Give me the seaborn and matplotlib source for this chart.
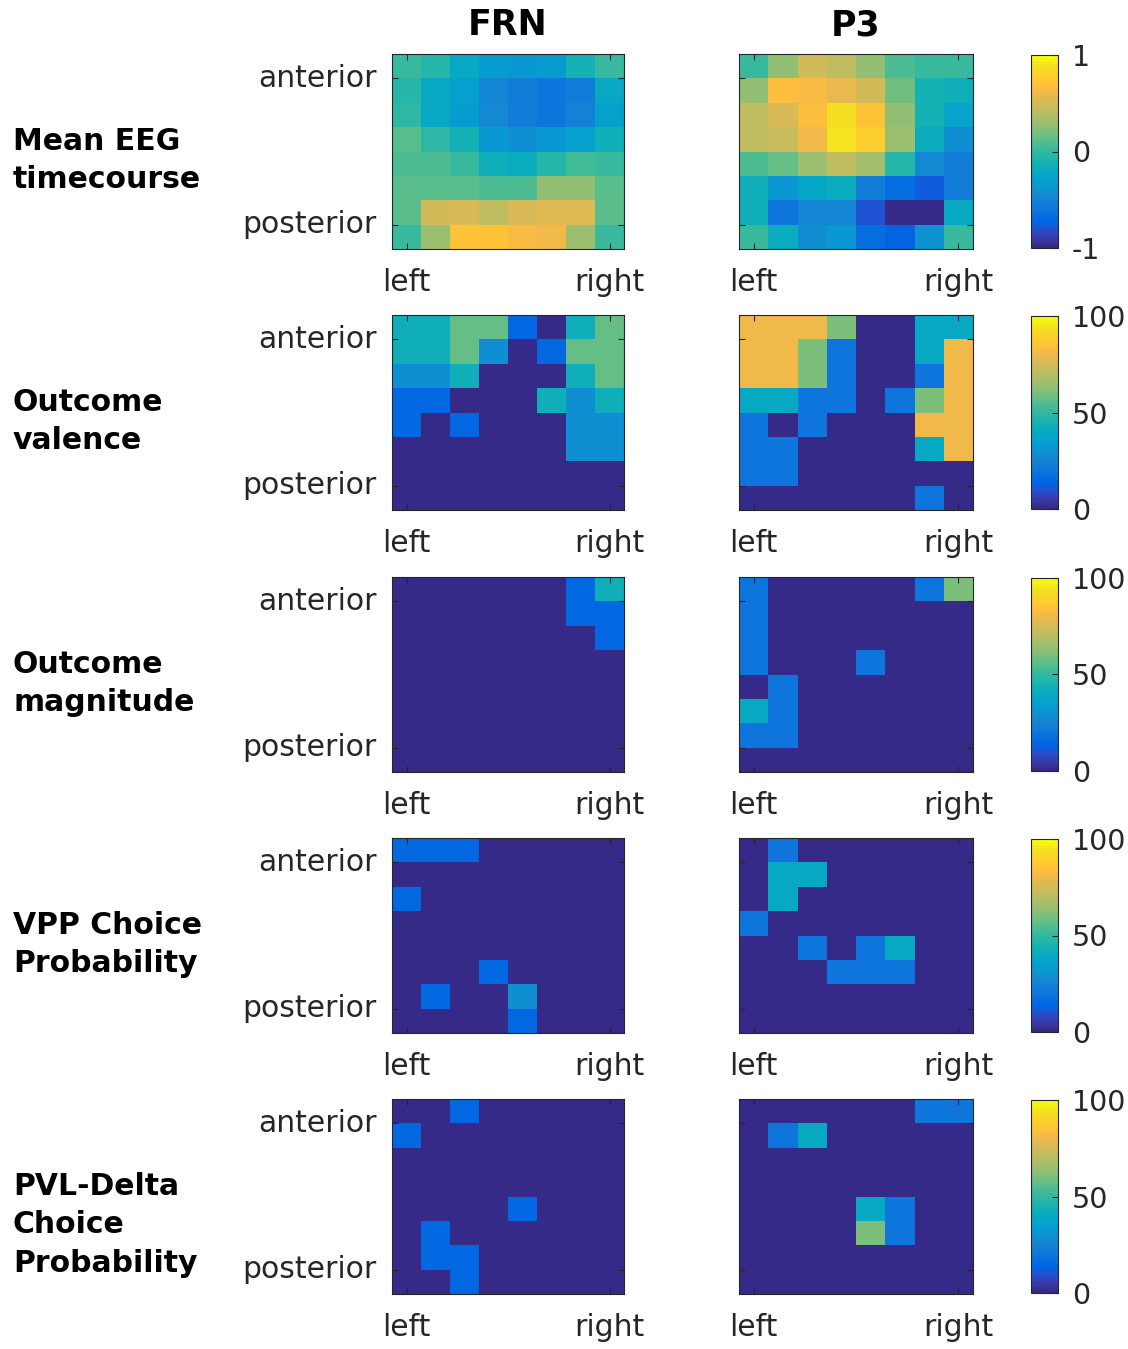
import numpy as np
import seaborn as sns
import matplotlib.pyplot as plt
from matplotlib.colors import ListedColormap

# MATLAB parula (64 colours)
parula_rgb = [
    [0.2081, 0.1663, 0.5292], [0.2116, 0.1898, 0.5777], [0.2123, 0.2138, 0.6270], [0.2081, 0.2386, 0.6771],
    [0.1959, 0.2645, 0.7279], [0.1707, 0.2919, 0.7792], [0.1253, 0.3242, 0.8303], [0.0591, 0.3598, 0.8683],
    [0.0117, 0.3875, 0.8820], [0.0060, 0.4086, 0.8828], [0.0165, 0.4266, 0.8786], [0.0329, 0.4430, 0.8720],
    [0.0498, 0.4586, 0.8641], [0.0629, 0.4737, 0.8554], [0.0723, 0.4887, 0.8467], [0.0779, 0.5040, 0.8384],
    [0.0793, 0.5200, 0.8312], [0.0749, 0.5375, 0.8263], [0.0641, 0.5570, 0.8240], [0.0488, 0.5772, 0.8228],
    [0.0343, 0.5966, 0.8199], [0.0265, 0.6137, 0.8135], [0.0239, 0.6287, 0.8038], [0.0231, 0.6418, 0.7913],
    [0.0228, 0.6535, 0.7768], [0.0267, 0.6642, 0.7607], [0.0384, 0.6743, 0.7436], [0.0590, 0.6838, 0.7254],
    [0.0843, 0.6928, 0.7062], [0.1133, 0.7015, 0.6859], [0.1453, 0.7098, 0.6646], [0.1801, 0.7177, 0.6424],
    [0.2178, 0.7250, 0.6193], [0.2586, 0.7317, 0.5954], [0.3022, 0.7376, 0.5712], [0.3482, 0.7424, 0.5473],
    [0.3953, 0.7459, 0.5244], [0.4420, 0.7481, 0.5033], [0.4871, 0.7491, 0.4840], [0.5300, 0.7491, 0.4661],
    [0.5709, 0.7485, 0.4494], [0.6099, 0.7473, 0.4337], [0.6473, 0.7456, 0.4188], [0.6834, 0.7435, 0.4044],
    [0.7184, 0.7411, 0.3905], [0.7525, 0.7384, 0.3768], [0.7858, 0.7356, 0.3633], [0.8185, 0.7327, 0.3498],
    [0.8507, 0.7299, 0.3360], [0.8824, 0.7274, 0.3217], [0.9139, 0.7258, 0.3063], [0.9450, 0.7261, 0.2886],
    [0.9739, 0.7314, 0.2666], [0.9938, 0.7455, 0.2403], [0.9990, 0.7653, 0.2164], [0.9955, 0.7861, 0.1967],
    [0.9880, 0.8066, 0.1794], [0.9789, 0.8271, 0.1633], [0.9697, 0.8481, 0.1475], [0.9626, 0.8705, 0.1309],
    [0.9589, 0.8949, 0.1132], [0.9598, 0.9218, 0.0948], [0.9661, 0.9514, 0.0755], [0.9763, 0.9831, 0.0538]]
parula = ListedColormap(parula_rgb)

# ---- data (rows: anterior -> posterior, cols: left -> right) ----
frn_mean = [
    [0.00, -0.05, -0.20, -0.33, -0.35, -0.34, -0.11, 0.00],
    [-0.05, -0.20, -0.30, -0.49, -0.55, -0.62, -0.55, -0.20],
    [-0.02, -0.20, -0.32, -0.45, -0.56, -0.60, -0.52, -0.30],
    [0.11, -0.03, -0.12, -0.35, -0.42, -0.37, -0.30, -0.15],
    [0.07, 0.07, 0.00, -0.15, -0.17, -0.06, 0.04, 0.00],
    [0.11, 0.11, 0.11, 0.09, 0.09, 0.27, 0.27, 0.11],
    [0.11, 0.49, 0.52, 0.43, 0.52, 0.56, 0.56, 0.11],
    [0.00, 0.30, 0.70, 0.70, 0.65, 0.60, 0.30, 0.02]]
p3_mean = [
    [0.02, 0.27, 0.49, 0.43, 0.27, 0.08, 0.02, 0.00],
    [0.28, 0.68, 0.63, 0.57, 0.49, 0.18, -0.10, -0.13],
    [0.43, 0.52, 0.67, 0.87, 0.70, 0.27, -0.11, -0.28],
    [0.42, 0.45, 0.62, 0.90, 0.78, 0.31, -0.18, -0.43],
    [0.07, 0.15, 0.31, 0.43, 0.34, -0.05, -0.45, -0.55],
    [-0.13, -0.35, -0.22, -0.17, -0.55, -0.68, -0.77, -0.55],
    [-0.13, -0.60, -0.49, -0.50, -0.80, -1.00, -1.00, -0.20],
    [0.01, -0.18, -0.42, -0.37, -0.67, -0.72, -0.40, 0.01]]

frn_valence = [
    [42.9, 42.9, 57.1, 57.1, 14.3, 0, 42.9, 57.1],
    [42.9, 42.9, 57.1, 28.6, 0, 14.3, 57.1, 57.1],
    [28.6, 28.6, 42.9, 0, 0, 0, 42.9, 57.1],
    [14.3, 14.3, 0, 0, 0, 42.9, 28.6, 42.9],
    [14.3, 0, 14.3, 0, 0, 0, 28.6, 28.6],
    [0, 0, 0, 0, 0, 0, 28.6, 28.6],
    [0, 0, 0, 0, 0, 0, 0, 0],
    [0, 0, 0, 0, 0, 0, 0, 0]]
p3_valence = [
    [80, 80, 80, 60, 0, 0, 40, 40],
    [80, 80, 60, 20, 0, 0, 40, 80],
    [80, 80, 60, 20, 0, 0, 20, 80],
    [40, 40, 20, 20, 0, 20, 60, 80],
    [20, 0, 20, 0, 0, 0, 80, 80],
    [20, 20, 0, 0, 0, 0, 40, 80],
    [20, 20, 0, 0, 0, 0, 0, 0],
    [0, 0, 0, 0, 0, 0, 20, 0]]

frn_magnitude = [
    [0, 0, 0, 0, 0, 0, 14.3, 42.9],
    [0, 0, 0, 0, 0, 0, 14.3, 14.3],
    [0, 0, 0, 0, 0, 0, 0, 14.3],
    [0, 0, 0, 0, 0, 0, 0, 0],
    [0, 0, 0, 0, 0, 0, 0, 0],
    [0, 0, 0, 0, 0, 0, 0, 0],
    [0, 0, 0, 0, 0, 0, 0, 0],
    [0, 0, 0, 0, 0, 0, 0, 0]]
p3_magnitude = [
    [20, 0, 0, 0, 0, 0, 20, 60],
    [20, 0, 0, 0, 0, 0, 0, 0],
    [20, 0, 0, 0, 0, 0, 0, 0],
    [20, 0, 0, 0, 20, 0, 0, 0],
    [0, 20, 0, 0, 0, 0, 0, 0],
    [40, 20, 0, 0, 0, 0, 0, 0],
    [20, 20, 0, 0, 0, 0, 0, 0],
    [0, 0, 0, 0, 0, 0, 0, 0]]

frn_vpp = [
    [14.3, 14.3, 14.3, 0, 0, 0, 0, 0],
    [0, 0, 0, 0, 0, 0, 0, 0],
    [14.3, 0, 0, 0, 0, 0, 0, 0],
    [0, 0, 0, 0, 0, 0, 0, 0],
    [0, 0, 0, 0, 0, 0, 0, 0],
    [0, 0, 0, 14.3, 0, 0, 0, 0],
    [0, 14.3, 0, 0, 28.6, 0, 0, 0],
    [0, 0, 0, 0, 14.3, 0, 0, 0]]
p3_vpp = [
    [0, 20, 0, 0, 0, 0, 0, 0],
    [0, 40, 40, 0, 0, 0, 0, 0],
    [0, 40, 0, 0, 0, 0, 0, 0],
    [20, 0, 0, 0, 0, 0, 0, 0],
    [0, 0, 20, 0, 20, 40, 0, 0],
    [0, 0, 0, 20, 20, 20, 0, 0],
    [0, 0, 0, 0, 0, 0, 0, 0],
    [0, 0, 0, 0, 0, 0, 0, 0]]

frn_pvl = [
    [0, 0, 14.3, 0, 0, 0, 0, 0],
    [14.3, 0, 0, 0, 0, 0, 0, 0],
    [0, 0, 0, 0, 0, 0, 0, 0],
    [0, 0, 0, 0, 0, 0, 0, 0],
    [0, 0, 0, 0, 14.3, 0, 0, 0],
    [0, 14.3, 0, 0, 0, 0, 0, 0],
    [0, 14.3, 14.3, 0, 0, 0, 0, 0],
    [0, 0, 14.3, 0, 0, 0, 0, 0]]
p3_pvl = [
    [0, 0, 0, 0, 0, 0, 20, 20],
    [0, 20, 40, 0, 0, 0, 0, 0],
    [0, 0, 0, 0, 0, 0, 0, 0],
    [0, 0, 0, 0, 0, 0, 0, 0],
    [0, 0, 0, 0, 40, 20, 0, 0],
    [0, 0, 0, 0, 60, 20, 0, 0],
    [0, 0, 0, 0, 0, 0, 0, 0],
    [0, 0, 0, 0, 0, 0, 0, 0]]

row_labels = ['Mean EEG\ntimecourse', 'Outcome\nvalence', 'Outcome\nmagnitude',
              'VPP Choice\nProbability', 'PVL-Delta\nChoice\nProbability']
col_titles = ['FRN', 'P3']
frn_data = [frn_mean, frn_valence, frn_magnitude, frn_vpp, frn_pvl]
p3_data = [p3_mean, p3_valence, p3_magnitude, p3_vpp, p3_pvl]
limits = [(-1, 1), (0, 100), (0, 100), (0, 100), (0, 100)]
cbar_ticks = [[-1, 0, 1], [0, 50, 100], [0, 50, 100], [0, 50, 100], [0, 50, 100]]
cbar_labels = [['-1', '0', '1'], ['0', '50', '100'], ['0', '50', '100'], ['0', '50', '100'], ['0', '50', '100']]

# ---- layout ----
W, H = 1128, 1349
fig = plt.figure(figsize=(W / 100, H / 100), dpi=100)
fig.patch.set_facecolor('white')

def box(x0, y0, x1, y1):
    return [x0 / W, 1 - y1 / H, (x1 - x0) / W, (y1 - y0) / H]

tops = [54, 315, 577, 838, 1099]
ph = 195
cols_x = [(392, 624), (739, 973)]
tick_col = '#262626'

def style_axis(ax, ylabels):
    ax.set_xticks([0.5, 7.5])
    ax.set_xticklabels(['left', 'right'], rotation=0)
    ax.set_yticks([1, 7])
    if ylabels:
        ax.set_yticklabels(['anterior', 'posterior'], rotation=0)
    else:
        ax.set_yticklabels([])
    ax.tick_params(axis='both', direction='in', length=4, width=0.8, color=tick_col,
                   labelcolor=tick_col, labelsize=21.5, top=True, right=True)
    ax.tick_params(axis='x', pad=14)
    ax.tick_params(axis='y', pad=11)
    for s in ax.spines.values():
        s.set_visible(True)
        s.set_linewidth(0.8)
        s.set_color(tick_col)

for i in range(5):
    t = tops[i]
    vmin, vmax = limits[i]
    ax1 = fig.add_axes(box(cols_x[0][0], t, cols_x[0][1], t + ph))
    ax2 = fig.add_axes(box(cols_x[1][0], t, cols_x[1][1], t + ph))
    cax = fig.add_axes(box(1031, t + 1, 1058, t + ph - 1))
    sns.heatmap(np.array(frn_data[i]), ax=ax1, cmap=parula, vmin=vmin, vmax=vmax, cbar=False)
    sns.heatmap(np.array(p3_data[i]), ax=ax2, cmap=parula, vmin=vmin, vmax=vmax, cbar=True, cbar_ax=cax)
    style_axis(ax1, True)
    style_axis(ax2, False)
    cb = ax2.collections[0].colorbar
    cb.set_ticks(cbar_ticks[i])
    cb.set_ticklabels(cbar_labels[i])
    cb.ax.tick_params(direction='in', length=4, width=0.8, color=tick_col,
                      labelcolor=tick_col, labelsize=20.5, pad=10)
    cb.outline.set_linewidth(0.8)
    cb.outline.set_edgecolor(tick_col)
    fig.text(13 / W, 1 - (t + 73) / H, row_labels[i], ha='left', va='top',
             fontsize=21.5, fontweight='bold', linespacing=1.41)

for j, title in enumerate(col_titles):
    cx = (cols_x[j][0] + cols_x[j][1]) / 2
    fig.text(cx / W, 1 - 25 / H, title, ha='center', va='center', fontsize=25, fontweight='bold')

plt.savefig('out.png', dpi=100)
